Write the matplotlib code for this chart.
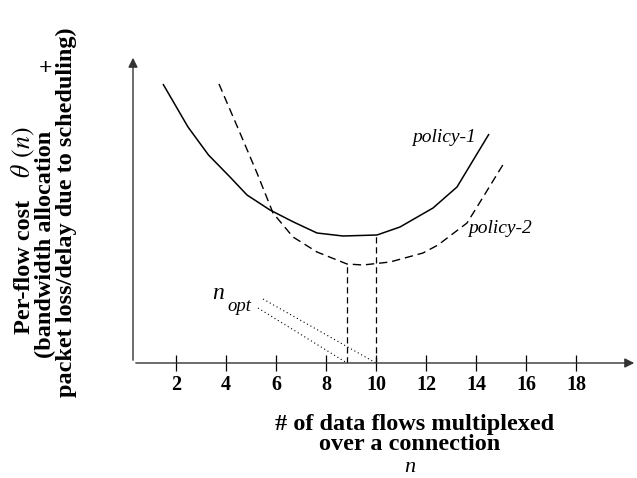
import numpy as np
import matplotlib
matplotlib.use("Agg")
import matplotlib.pyplot as plt

plt.rcParams['font.family'] = ['Liberation Serif', 'DejaVu Serif']
plt.rcParams['mathtext.fontset'] = 'stix'

# curve values (y in arbitrary cost units)
p1_x = [1.48, 2.48, 3.3, 4.16, 4.84, 5.76, 6.7, 7.64, 8.68, 10.04, 10.96, 12.28, 13.24, 14.52]
p1_y = [279, 236, 208, 186, 168, 153, 141, 130, 127, 128, 136, 155, 176, 229]
p2_x = [3.72, 4.56, 5.24, 5.88, 6.68, 7.64, 8.84, 9.48, 10.56, 11.88, 12.48, 13.64, 14.04, 15.12]
p2_y = [279, 230, 190, 150, 126, 111, 99, 98, 101, 110, 118, 140, 156, 200]
n_opt = [8.84, 10.0]
n_opt_cost = [99, 128]
ticks = [2, 4, 6, 8, 10, 12, 14, 16, 18]

W, H = 637, 478
fig = plt.figure(figsize=(W / 100, H / 100), dpi=100)

def fx(px):
    return px / W

def fy(py):
    return 1 - py / H

ax = fig.add_axes([fx(126), fy(363), fx(637) - fx(126), fy(55) - fy(363)])
ax.set_xlim(0, 20.44)
ax.set_ylim(0, 308)
for s in ax.spines.values():
    s.set_visible(False)

# axes with arrows
ax.annotate('', xy=(20.44, 0), xytext=(0.28, 0),
            arrowprops=dict(arrowstyle='-|>', color='#333333', lw=1.0, mutation_scale=14),
            annotation_clip=False)
ax.annotate('', xy=(0.28, 308), xytext=(0.28, 0),
            arrowprops=dict(arrowstyle='-|>', color='#333333', lw=1.0, mutation_scale=14),
            annotation_clip=False)

ax.set_xticks(ticks)
ax.set_xticklabels([str(t) for t in ticks], fontweight='bold', fontsize=14.5)
ax.tick_params(axis='x', direction='inout', length=11, width=0.9, pad=3, color='black')
ax.set_yticks([])

# curves
ax.plot(p1_x, p1_y, color='black', lw=1.1, solid_capstyle='butt')
ax.plot(p2_x, p2_y, color='black', lw=1.0, dashes=(6, 3.5))

# optimum markers
for xv, yv in zip(n_opt, n_opt_cost):
    ax.plot([xv, xv], [0, yv], color='black', lw=0.9, dashes=(5, 3))
ax.plot([5.48, n_opt[1]], [64, 0], color='black', lw=0.8, ls=(0, (1, 2.5)))
ax.plot([5.28, n_opt[0]], [55, 0], color='black', lw=0.8, ls=(0, (1, 2.5)))

ax.text(3.44, 64, 'n', fontstyle='italic', fontsize=17, va='baseline')
ax.text(4.04, 52, 'opt', fontstyle='italic', fontsize=13.5, va='baseline')
ax.text(11.44, 221, 'policy-1', fontstyle='italic', fontsize=14, va='baseline')
ax.text(13.68, 130, 'policy-2', fontstyle='italic', fontsize=14, va='baseline')

# x label
fig.text(fx(415), fy(430), '# of data flows multiplexed', fontweight='bold', fontsize=17.5,
         ha='center', va='baseline')
fig.text(fx(410), fy(450), 'over a connection', fontweight='bold', fontsize=17.5,
         ha='center', va='baseline')
fig.text(fx(410), fy(472), 'n', fontstyle='italic', fontsize=16, ha='center', va='baseline')

# y label
fs = 17.5
fig.text(fx(30), fy(334), 'Per-flow cost', fontweight='bold', fontsize=fs, rotation=90,
         rotation_mode='anchor', ha='left', va='baseline')
fig.text(fx(30), fy(178), r'$\theta\;\,(n)$', fontsize=fs + 1, rotation=90,
         rotation_mode='anchor', ha='left', va='baseline')
fig.text(fx(51), fy(358), '(bandwidth allocation', fontweight='bold', fontsize=fs, rotation=90,
         rotation_mode='anchor', ha='left', va='baseline')
fig.text(fx(45), fy(68), '+', fontweight='bold', fontsize=17, ha='center', va='center')
fig.text(fx(72), fy(397), 'packet loss/delay due to scheduling)', fontweight='bold', fontsize=fs,
         rotation=90, rotation_mode='anchor', ha='left', va='baseline')

fig.savefig('out.png', dpi=100)
